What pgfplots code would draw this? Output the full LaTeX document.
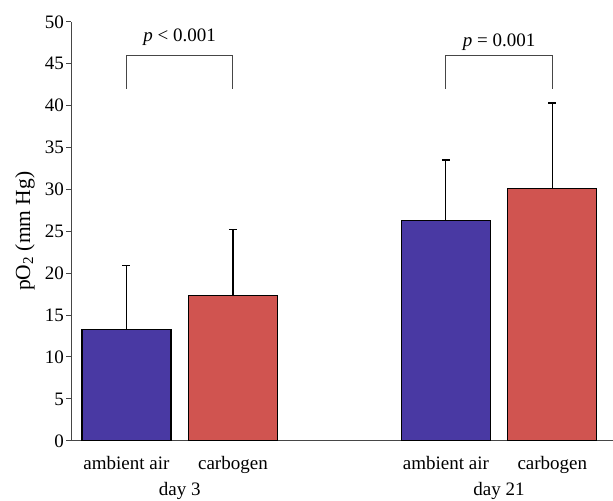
\documentclass[border=0pt]{standalone}
\usepackage{pgfplots}
\pgfplotsset{compat=1.18}
\usepackage{fontspec}
\setmainfont{Liberation Serif}
\definecolor{airblue}{RGB}{73,57,163}
\definecolor{carbred}{RGB}{208,84,80}
\definecolor{axisgray}{RGB}{70,70,70}
\begin{document}
\begin{tikzpicture}
\begin{axis}[
  scale only axis,
  width=542pt, height=419pt,
  font=\fontsize{19}{22}\selectfont,
  /pgf/number format/assume math mode=true,
  xmin=-0.521, xmax=4.57,
  ymin=0, ymax=50,
  ytick={0,5,...,50},
  axis x line*=bottom, axis y line*=left,
  axis line style={axisgray, line width=1pt, -},
  xtick={0,1,3,4},
  xticklabels={ambient air, carbogen, ambient air, carbogen},
  xtick style={draw=none},
  xticklabel style={anchor=base, yshift=-24pt},
  extra x ticks={0.5,1.5,2.5,3.5,4.5},
  extra x tick labels={},
  extra x tick style={tick style={draw=axisgray, line width=1pt}, major tick length=4pt},
  tick align=outside,
  ytick style={axisgray, line width=1pt},
  major tick length=5pt,
  yticklabel style={inner sep=2pt},
  ylabel={pO\textsubscript{2} (mm Hg)},
  ylabel style={font=\fontsize{21.5}{24}\selectfont, at={(axis description cs:-0.085,0.5)}, anchor=center},
  ybar, bar shift=0pt, bar width=0.836,
  clip=false,
]
\addplot[fill=airblue, draw=black, line width=1.2pt,
  error bars/.cd, y dir=plus, y explicit,
  error bar style={line width=1.2pt, black},
  error mark options={rotate=90, mark size=4pt, line width=1.2pt, black}]
  coordinates {(0,13.3) +- (0,7.6) (3,26.25) +- (0,7.25)};
\addplot[fill=carbred, draw=black, line width=1.2pt,
  error bars/.cd, y dir=plus, y explicit,
  error bar style={line width=1.2pt, black},
  error mark options={rotate=90, mark size=4pt, line width=1.2pt, black}]
  coordinates {(1,17.35) +- (0,7.85) (4,30.15) +- (0,10.15)};
\draw[axisgray, line width=1pt] (axis cs:0,42) -- (axis cs:0,46) -- (axis cs:1,46) -- (axis cs:1,42);
\draw[axisgray, line width=1pt] (axis cs:3,42) -- (axis cs:3,46) -- (axis cs:4,46) -- (axis cs:4,42);
\node[anchor=base] at (axis cs:0.5,47.6) {\textit{p} < 0.001};
\node[anchor=base] at (axis cs:3.5,47.0) {\textit{p} = 0.001};
\node[anchor=base] at (axis cs:0.5,0) [yshift=-55pt] {day 3};
\node[anchor=base] at (axis cs:3.5,0) [yshift=-55pt] {day 21};
\coordinate (bl) at (axis cs:-1.188,-7.16);
\coordinate (tr) at (axis cs:4.57,52.6);
\end{axis}
\pgfresetboundingbox
\useasboundingbox (bl) rectangle (tr);
\end{tikzpicture}
\end{document}
